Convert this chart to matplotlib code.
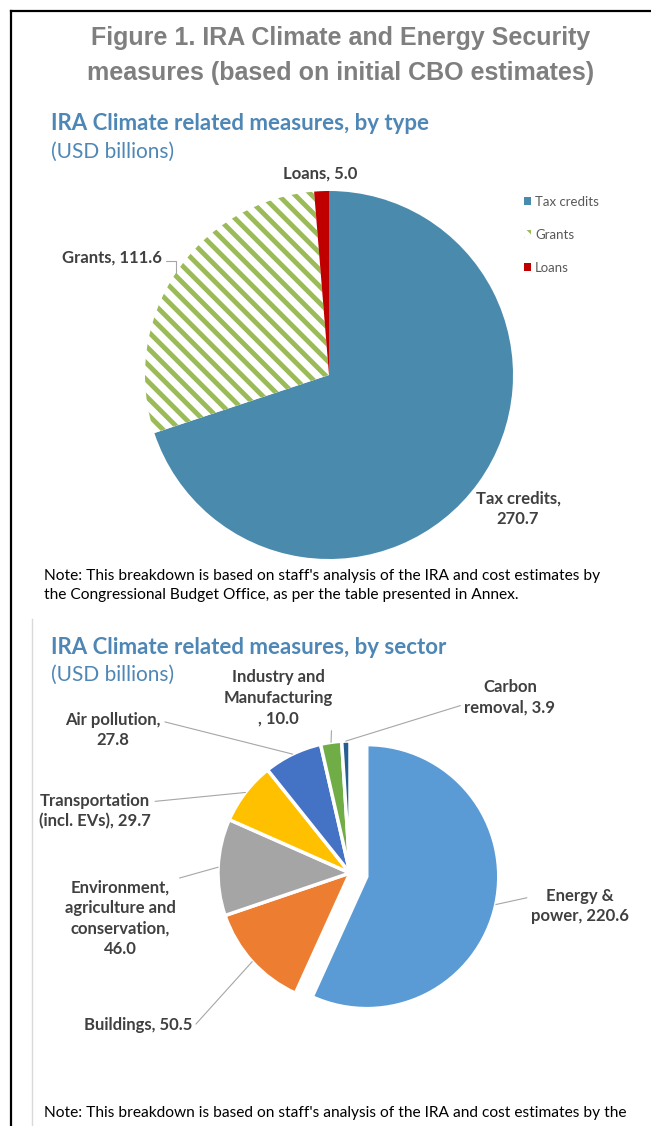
import numpy as np
import matplotlib

matplotlib.use("Agg")
import matplotlib.pyplot as plt

# --- data -------------------------------------------------------------------
type_names = ["Tax credits", "Grants", "Loans"]
type_values = [270.7, 111.6, 5.0]
type_colors = ["#4A8BAD", "white", "#C00000"]

sector_names = [
    "Energy &\npower",
    "Buildings",
    "Environment,\nagriculture and\nconservation,\n",
    "Transportation\n(incl. EVs)",
    "Air pollution,\n",
    "Industry and\nManufacturing\n",
    "Carbon\nremoval",
]
sector_values = [220.6, 50.5, 46.0, 29.7, 27.8, 10.0, 3.9]
sector_colors = ["#5B9BD5", "#ED7D31", "#A5A5A5", "#FFC000", "#4472C4", "#70AD47", "#255E91"]

W, H = 651, 1126
plt.rcParams["hatch.linewidth"] = 3.5
SANS = ["Lato", "DejaVu Sans"]
LBL = "#404040"
BLUE = "#4E87B5"
LFS = 12


def Y(y):
    return H - y


def label_text(name, value):
    if name.startswith("Industry"):
        return f"{name}, {value:.1f}"
    if name.endswith("\n"):
        return f"{name}{value:.1f}"
    return f"{name}, {value:.1f}"


def anchor(w, frac=1.0):
    a = np.deg2rad((w.theta1 + w.theta2) / 2)
    cx, cy = w.center
    return cx + w.r * frac * np.cos(a), cy + w.r * frac * np.sin(a)


fig = plt.figure(figsize=(W / 100, H / 100), dpi=100)
ax = fig.add_axes([0, 0, 1, 1])

# frame lines
ax.plot([11, 11], [Y(11), 0], color="black", lw=1.6, solid_capstyle="projecting")
ax.plot([11, W], [Y(11), Y(11)], color="black", lw=1.6, solid_capstyle="projecting")
ax.plot([32, 32], [Y(619), 0], color="#D9D9D9", lw=1)

ax.text(341, Y(38), "Figure 1. IRA Climate and Energy Security", ha="center", va="center",
        fontsize=18, fontweight="bold", color="#7F7F7F", family="Liberation Sans")
ax.text(341, Y(73), "measures (based on initial CBO estimates)", ha="center", va="center",
        fontsize=18, fontweight="bold", color="#7F7F7F", family="Liberation Sans")

# --- pie 1: by type ---------------------------------------------------------
ax.text(51, Y(124), "IRA Climate related measures, by type", ha="left", va="center",
        fontsize=16, fontweight="bold", color=BLUE, family=SANS)
ax.text(51, Y(152), "(USD billions)", ha="left", va="center", fontsize=15, color=BLUE, family=SANS)

w1, _ = ax.pie(type_values, colors=type_colors, startangle=90, counterclock=False,
               center=(329, Y(375)), radius=184, frame=True, wedgeprops=dict(linewidth=0))
w1[1].set_edgecolor("#9BBB59")
w1[1].set_hatch("\\\\")

ax.text(320, Y(174), f"Loans, {type_values[2]:.1f}", ha="center", va="center",
        fontsize=LFS, fontweight="bold", color=LBL, family=SANS)
ax.annotate(f"Grants, {type_values[1]:.1f}", xy=anchor(w1[1], 1.0), xytext=(112, Y(258)),
            ha="center", va="center", fontsize=LFS, fontweight="bold", color=LBL, family=SANS,
            arrowprops=dict(arrowstyle="-", color="#A6A6A6", lw=0.8, relpos=(1, 0.3),
                            shrinkA=1, shrinkB=0, connectionstyle="angle,angleA=0,angleB=90,rad=0"))
ax.text(518, Y(509), f"Tax credits,\n{type_values[0]:.1f}", ha="center", va="center",
        fontsize=LFS, fontweight="bold", color=LBL, family=SANS, linespacing=1.35)

leg = ax.legend(w1, type_names, loc="upper left", bbox_to_anchor=(512 / W, 1 - 184 / H),
                frameon=False, handlelength=0.55, handleheight=0.55, handletextpad=0.3,
                labelspacing=1.6, prop=dict(family=SANS, size=9.5))
for t in leg.get_texts():
    t.set_color("#595959")

ax.text(44, Y(576), "Note: This breakdown is based on staff's analysis of the IRA and cost estimates by",
        ha="left", va="center", fontsize=11.2, family=SANS, color="black")
ax.text(44, Y(595), "the Congressional Budget Office, as per the table presented in Annex.",
        ha="left", va="center", fontsize=11.2, family=SANS, color="black")

# --- pie 2: by sector -------------------------------------------------------
ax.text(51, Y(647), "IRA Climate related measures, by sector", ha="left", va="center",
        fontsize=16, fontweight="bold", color=BLUE, family=SANS)
ax.text(51, Y(675), "(USD billions)", ha="left", va="center", fontsize=15, color=BLUE, family=SANS)

r2 = 132
explode = [0.13 * r2, 0, 0, 0, 0, 0, 0]
w2, _ = ax.pie(sector_values, colors=sector_colors, startangle=90, counterclock=False,
               explode=explode, center=(350, Y(873)), radius=r2, frame=True,
               wedgeprops=dict(edgecolor="white", linewidth=2.5))

# label layout: (x, y, relpos)
label_pos = [
    (580, Y(906), (0, 0.75)),
    (138, Y(1025), (1, 0.3)),
    (120, Y(918), (1, 1.0)),
    (95, Y(811), (1, 0.75)),
    (113, Y(730), (1, 0.75)),
    (278, Y(698), (1, 0.5)),
    (510, Y(697), (0, 0.3)),
]
for w, name, val, (lx, ly, rp) in zip(w2, sector_names, sector_values, label_pos):
    ax.annotate(label_text(name, val), xy=anchor(w, 1.0), xytext=(lx, ly),
                ha="center", va="center", fontsize=LFS, fontweight="bold", color=LBL,
                family=SANS, linespacing=1.35,
                arrowprops=dict(arrowstyle="-", color="#A6A6A6", lw=0.8, relpos=rp,
                                shrinkA=1, shrinkB=0))

ax.text(44, Y(1113), "Note: This breakdown is based on staff's analysis of the IRA and cost estimates by the",
        ha="left", va="center", fontsize=11.2, family=SANS, color="black")

ax.set_xlim(0, W)
ax.set_ylim(0, H)
ax.set_aspect("auto")
ax.axis("off")
fig.savefig("out.png", dpi=100)
